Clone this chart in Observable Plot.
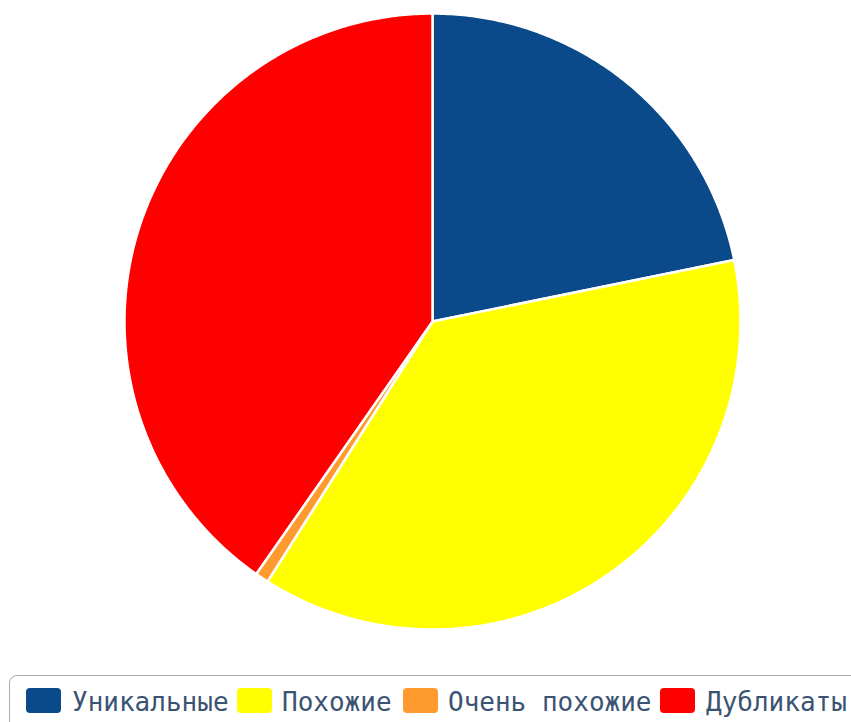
<!DOCTYPE html>
<html>
<head>
<meta charset="utf-8">
<script src="https://cdn.jsdelivr.net/npm/d3@7"></script>
<script src="https://cdn.jsdelivr.net/npm/@observablehq/plot@0.6"></script>
<style>
  html, body { margin: 0; padding: 0; background: #fff; overflow: hidden; }
  #chart { position: relative; width: 851px; height: 722px; }
  .legend {
    position: absolute; left: 9px; top: 675px; width: 860px; height: 60px;
    border: 1.5px solid #a9a9a9; border-radius: 8px; box-sizing: border-box;
  }
  .sw { position: absolute; top: 688px; width: 35px; height: 25px; border-radius: 4px; }
  .tx { position: absolute; top: 689px; line-height: 26px; white-space: pre;
        font-family: "DejaVu Sans Mono", monospace; font-size: 26px; color: #3b5372; }
</style>
</head>
<body>
<div id="chart"></div>
<script>
const categories = ["Уникальные", "Похожие", "Очень похожие", "Дубликаты"];
const values = [21.8, 37.2, 0.7, 40.3];
const colors = ["#0b4a8a", "#ffff00", "#ff9a2e", "#ff0000"];

const W = 851, H = 665;
const cx = 432, cy = 321, R = 308;

const pie = d3.pie().sort(null).value(d => d.value)
  .startAngle(0).endAngle(2 * Math.PI);
const arcs = pie(categories.map((c, i) => ({ key: c, value: values[i] })));

const pts = [];
for (const a of arcs) {
  const n = Math.max(4, Math.ceil((a.endAngle - a.startAngle) / 0.01));
  pts.push({ key: a.data.key, x: 0, y: 0 });
  for (let k = 0; k <= n; k++) {
    const t = a.startAngle + (a.endAngle - a.startAngle) * k / n;
    pts.push({ key: a.data.key, x: Math.sin(t), y: Math.cos(t) });
  }
  pts.push({ key: a.data.key, x: 0, y: 0 });
}

const plot = Plot.plot({
  width: W, height: H,
  margin: 0,
  x: { domain: [-cx / R, (W - cx) / R], axis: null },
  y: { domain: [-(H - cy) / R, cy / R], axis: null },
  color: { domain: categories, range: colors },
  marks: [
    Plot.line(pts, { x: "x", y: "y", z: "key", fill: "key", stroke: "white", strokeWidth: 2.5, strokeLinejoin: "round", curve: "linear" })
  ]
});
const chart = document.getElementById("chart");
chart.appendChild(plot);

const legend = document.createElement("div");
legend.className = "legend";
chart.appendChild(legend);
const swLefts = [26, 237, 403, 660];
const txLefts = [72, 282, 448, 706];
categories.forEach((lab, i) => {
  const sw = document.createElement("div");
  sw.className = "sw";
  sw.style.left = swLefts[i] + "px";
  sw.style.background = colors[i];
  chart.appendChild(sw);
  const tx = document.createElement("div");
  tx.className = "tx";
  tx.style.left = txLefts[i] + "px";
  tx.textContent = lab;
  chart.appendChild(tx);
});
</script>
</body>
</html>
